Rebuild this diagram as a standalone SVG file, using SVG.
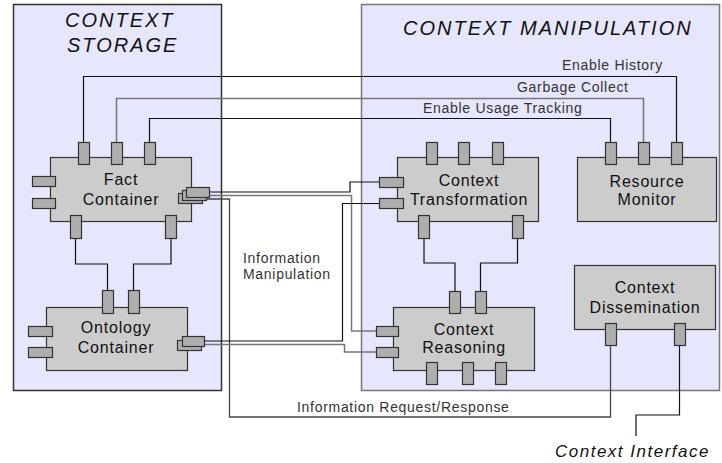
<svg xmlns="http://www.w3.org/2000/svg" width="722" height="463" viewBox="0 0 722 463">
<style>
.panel{fill:#e6e6fc;stroke-width:1.5}
.box{fill:#cccccc;stroke:#333;stroke-width:1.2}
.port{fill:#aeaeae;stroke:#333;stroke-width:1.2}
.title{font-family:"Liberation Sans",Arial,sans-serif;font-style:italic;font-size:20px;letter-spacing:2px;fill:#111}
.nt{font-family:"Liberation Sans",Arial,sans-serif;font-size:16px;letter-spacing:0.8px;fill:#111;text-anchor:middle}
.lbl{font-family:"Liberation Sans",Arial,sans-serif;font-size:14px;letter-spacing:0.7px;fill:#333}
.c{fill:none;stroke:#111;stroke-width:1.2}
.g{fill:none;stroke:#777;stroke-width:1.5}
.d{fill:none;stroke:#444;stroke-width:1.3}
</style>
<rect width="722" height="463" fill="#fff"/>
<g id="panel-storage">
<rect class="panel" x="13.5" y="4.5" width="208" height="386" stroke="#333"/>
<text class="title" x="65" y="27">CONTEXT</text>
<text class="title" x="67" y="52">STORAGE</text>
</g>
<g id="panel-manipulation">
<rect class="panel" x="361.5" y="4.5" width="358" height="386" stroke="#777"/>
<text class="title" x="403" y="35">CONTEXT MANIPULATION</text>
</g>
<g id="connectors">
<path class="c" d="M83.5,142 V76.5 H676.5 V142"/>
<path class="g" d="M116.5,142 V98.5 H643.5 V142"/>
<path class="c" d="M149.5,142 V118.5 H610.5 V142"/>
<path class="c" d="M209,192 H350 V182 H379"/>
<path class="g" d="M206,195.5 H351.5 V331 H376"/>
<path class="d" d="M202,199 H229.5 V417 H610.5 V345"/>
<path class="c" d="M204,341 H342.5 V203.5 H379"/>
<path class="g" d="M201,344.5 H344.5 V352 H376"/>
<path class="c" d="M679.5,345 V415 H636 V436"/>
<path class="c" d="M75.5,238 V264 H107.5 V290"/>
<path class="c" d="M171,238 V264 H133.5 V290"/>
<path class="c" d="M424,238 V263 H455 V291"/>
<path class="c" d="M517.5,238 V263 H480.5 V291"/>
<text class="lbl" x="562" y="70">Enable History</text>
<text class="lbl" x="517" y="92">Garbage Collect</text>
<text class="lbl" x="423" y="113">Enable Usage Tracking</text>
<text class="lbl" x="243" y="263">Information</text>
<text class="lbl" x="243" y="279">Manipulation</text>
<text class="lbl" x="297" y="412">Information Request/Response</text>
<text class="title" x="555" y="457" style="font-size:17px;letter-spacing:1.5px">Context Interface</text>
</g>
<g id="fact-container">
<rect class="box" x="50.5" y="157.5" width="141" height="64"/>
<rect class="port" x="78.5" y="142.5" width="11" height="22"/>
<rect class="port" x="111.5" y="142.5" width="11" height="22"/>
<rect class="port" x="144.5" y="142.5" width="11" height="22"/>
<rect class="port" x="70.5" y="215.5" width="11" height="23"/>
<rect class="port" x="165.5" y="215.5" width="11" height="23"/>
<rect class="port" x="32.5" y="176.5" width="23" height="10"/>
<rect class="port" x="32.5" y="198.5" width="23" height="10"/>
<rect class="port" x="178.5" y="193.5" width="24" height="10"/>
<rect class="port" x="182.5" y="190.5" width="24" height="10"/>
<rect class="port" x="186.5" y="187.5" width="23" height="10"/>
<text class="nt" x="121" y="185">Fact</text>
<text class="nt" x="121" y="205">Container</text>
</g>
<g id="ontology-container">
<rect class="box" x="46.5" y="307.5" width="141" height="63"/>
<rect class="port" x="102.5" y="290.5" width="11" height="23"/>
<rect class="port" x="128.5" y="290.5" width="11" height="23"/>
<rect class="port" x="28.5" y="326.5" width="24" height="10"/>
<rect class="port" x="28.5" y="347.5" width="24" height="10"/>
<rect class="port" x="177.5" y="340.5" width="24" height="10"/>
<rect class="port" x="182.5" y="336.5" width="22" height="10"/>
<text class="nt" x="116" y="333">Ontology</text>
<text class="nt" x="116" y="353">Container</text>
</g>
<g id="context-transformation">
<rect class="box" x="397.5" y="157.5" width="141" height="64"/>
<rect class="port" x="426.5" y="142.5" width="11" height="22"/>
<rect class="port" x="458.5" y="142.5" width="11" height="22"/>
<rect class="port" x="492.5" y="142.5" width="11" height="22"/>
<rect class="port" x="418.5" y="215.5" width="11" height="23"/>
<rect class="port" x="512.5" y="215.5" width="11" height="23"/>
<rect class="port" x="379.5" y="177.5" width="24" height="10"/>
<rect class="port" x="379.5" y="198.5" width="24" height="10"/>
<text class="nt" x="469" y="186">Context</text>
<text class="nt" x="469" y="205">Transformation</text>
</g>
<g id="resource-monitor">
<rect class="box" x="577.5" y="157.5" width="139" height="64"/>
<rect class="port" x="605.5" y="142.5" width="11" height="22"/>
<rect class="port" x="638.5" y="142.5" width="11" height="22"/>
<rect class="port" x="671.5" y="142.5" width="11" height="22"/>
<text class="nt" x="647" y="187">Resource</text>
<text class="nt" x="647" y="205">Monitor</text>
</g>
<g id="context-reasoning">
<rect class="box" x="393.5" y="307.5" width="141" height="63"/>
<rect class="port" x="449.5" y="291.5" width="11" height="22"/>
<rect class="port" x="475.5" y="291.5" width="11" height="22"/>
<rect class="port" x="426.5" y="362.5" width="11" height="22"/>
<rect class="port" x="462.5" y="362.5" width="11" height="22"/>
<rect class="port" x="495.5" y="362.5" width="11" height="22"/>
<rect class="port" x="376.5" y="326.5" width="22" height="10"/>
<rect class="port" x="376.5" y="347.5" width="22" height="10"/>
<text class="nt" x="464" y="335">Context</text>
<text class="nt" x="464" y="353">Reasoning</text>
</g>
<g id="context-dissemination">
<rect class="box" x="574.5" y="265.5" width="141" height="64"/>
<rect class="port" x="605.5" y="323.5" width="11" height="22"/>
<rect class="port" x="674.5" y="323.5" width="11" height="22"/>
<text class="nt" x="645" y="293">Context</text>
<text class="nt" x="645" y="313">Dissemination</text>
</g>
</svg>
